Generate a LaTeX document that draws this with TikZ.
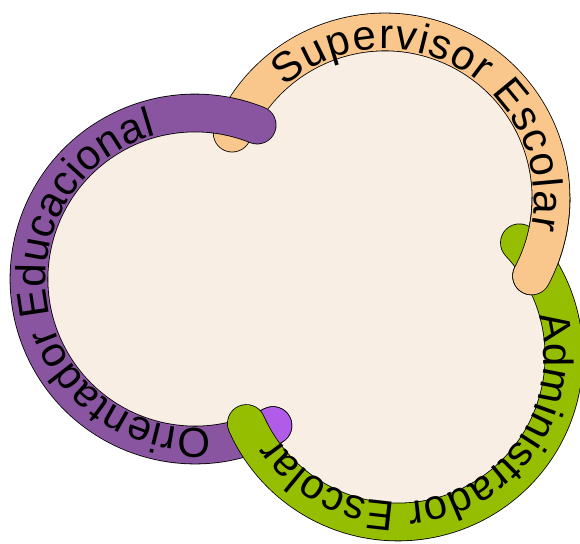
\documentclass[tikz,border=0pt]{standalone}
\usepackage{fontspec}
\setmainfont{Liberation Sans}
\usetikzlibrary{decorations.text}

\definecolor{cream}{HTML}{F8EEE4}
\definecolor{purp}{HTML}{8955A0}
\definecolor{lilac}{HTML}{B05CE8}
\definecolor{peach}{HTML}{F9C68C}
\definecolor{lime}{HTML}{95BE00}
\newcommand{\arcfont}{\fontsize{42}{48}\selectfont}

\begin{document}
\begin{tikzpicture}[x=1pt,y=1pt,
  band/.style={draw=black, line width=0.8pt, double=#1, double distance=37pt, line cap=round},
  arclabel/.style={decorate, decoration={text along path, text={|\arcfont|#1}, text align={fit to path}}}]

\useasboundingbox (0,0) rectangle (580,543);

\coordinate (orient) at (195,264);
\coordinate (superv) at (385,345);
\coordinate (admin) at (398,187);

\fill[cream] (orient) circle[radius=150];
\fill[cream] (superv) circle[radius=150];
\fill[cream] (admin) circle[radius=150];

\draw[band=peach] (superv) ++(157:166) arc[start angle=157, end angle=-28, radius=166];
\draw[band=purp] (orient) ++(-62:166) arc[start angle=-62, end angle=-292, radius=166];
\draw[band=lilac] (orient) ++(-62:166) arc[start angle=-62, end angle=-66, radius=166];
\draw[band=lime] (admin) ++(43:166) arc[start angle=43, end angle=-156, radius=166];
% peach end goes back over the lime start
\begin{scope}
\clip (480,215) rectangle (590,345);
\draw[band=peach] (superv) ++(157:166) arc[start angle=157, end angle=-28, radius=166];
\end{scope}

\path[arclabel=Orientador Educacional] (orient) ++(-84:149) arc[start angle=-84, end angle=-255, radius=149];
\path[arclabel=Supervisor Escolar] (superv) ++(132:149) arc[start angle=132, end angle=-12, radius=149];
\path[arclabel=Administrador Escolar] (admin) ++(16:146) arc[start angle=16, end angle=-146, radius=146];
\end{tikzpicture}
\end{document}
